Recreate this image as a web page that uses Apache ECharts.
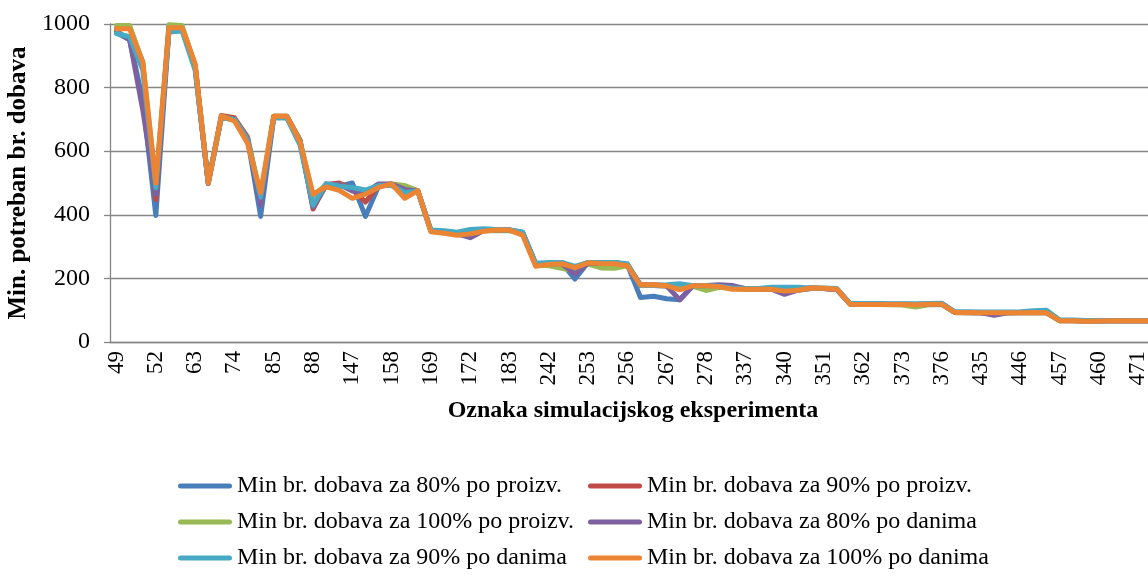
<!DOCTYPE html>
<html>
<head>
<meta charset="utf-8">
<script src="https://cdn.jsdelivr.net/npm/echarts@6/dist/echarts.min.js"></script>
<style>
  html, body { margin: 0; padding: 0; background: #ffffff; overflow: hidden; }
  /* plot area runs past the right edge of the page, so the last points are cut off */
  #chart { width: 1171px; height: 577px; }
</style>
</head>
<body>
<div id="chart"></div>
<script>
// Experiment IDs shown on the axis; every labelled experiment is followed by two unlabelled ones
const labeledIds = ['49','52','63','74','85','88','147','158','169','172','183','242','253','256',
  '267','278','337','340','351','362','373','376','435','446','457','460','471'];

const yTicks = { min: 0, max: 1000, step: 200 };

// Minimum required number of deliveries per experiment
const proizv80 = [972,950,760,398,980,985,862,500,705,700,
  640,395,705,705,635,425,495,490,500,395,
  490,495,480,475,350,348,343,335,352,353,
  352,345,245,248,248,198,250,250,250,243,
  140,144,136,133,177,178,176,170,168,168,
  167,163,165,170,168,165,120,120,120,119,
  119,118,119,120,93,93,92,88,92,93,
  95,95,68,68,67,67,67,67,67,67,
  67];
const proizv90 = [985,990,880,448,995,990,870,500,712,705,
  645,450,710,710,635,418,495,500,480,440,
  492,497,478,475,350,347,340,338,352,353,
  352,343,245,248,248,230,250,250,250,243,
  180,180,178,175,178,178,178,172,168,168,
  167,162,165,170,168,165,120,120,120,119,
  119,118,119,120,93,93,92,90,92,93,
  94,93,68,68,67,67,67,67,67,67,
  67];
const proizv100 = [995,995,878,495,998,995,870,500,710,700,
  640,460,710,710,635,460,495,495,478,470,
  492,497,492,476,348,345,342,340,350,350,
  350,340,242,240,232,222,245,233,232,240,
  178,178,176,170,175,162,172,168,165,165,
  167,163,163,168,168,165,118,118,118,117,
  116,110,117,118,92,92,92,91,92,92,
  93,92,67,67,66,66,67,67,67,67,
  67];
const danima80 = [978,950,730,465,985,985,865,498,708,700,
  638,430,708,708,632,425,492,495,475,470,
  497,497,480,475,350,346,340,328,350,352,
  352,342,243,246,246,213,248,248,248,242,
  178,178,176,133,177,178,180,178,168,167,
  166,150,163,168,168,165,119,118,119,118,
  118,118,118,119,93,92,92,84,92,92,
  93,92,67,67,66,66,67,67,67,67,
  67];
const danima90 = [970,960,855,485,975,978,855,500,705,700,
  635,455,705,705,620,430,498,490,486,478,
  492,492,470,475,352,350,345,354,356,354,
  352,345,248,250,250,238,250,250,250,246,
  178,178,180,183,177,177,175,170,168,168,
  172,172,172,170,170,168,121,121,121,120,
  120,120,121,122,95,95,94,94,94,95,
  98,100,69,69,68,68,68,68,68,68,
  68];
const danima100 = [985,985,880,500,988,988,875,500,710,695,
  625,470,710,710,630,465,488,477,452,465,
  486,497,452,476,347,342,336,340,348,352,
  352,336,238,244,246,234,249,247,246,240,
  179,179,177,164,177,177,174,166,166,166,
  166,160,163,170,169,166,119,118,118,118,
  118,117,119,119,93,93,92,92,92,92,
  93,92,67,67,65,66,67,67,67,67,
  67];

const seriesNames = [
  'Min br. dobava za 80% po proizv.',
  'Min br. dobava za 90% po proizv.',
  'Min br. dobava za 100% po proizv.',
  'Min br. dobava za 80% po danima',
  'Min br. dobava za 90% po danima',
  'Min br. dobava za 100% po danima'
];
const seriesData = [proizv80, proizv90, proizv100, danima80, danima90, danima100];
const colors = ['#4A7EBB', '#BE4B48', '#98B954', '#7D60A0', '#46AAC5', '#EB8533'];

// Category axis: labelled ID followed by two unlabelled slots
const categories = [];
labeledIds.forEach(id => { categories.push(id, '', ''); });

const FONT = '"Liberation Serif", "Times New Roman", serif';
const AXIS_GRAY = '#868686';

// Legend laid out in two fixed columns, three rows
const legendPos = [
  { left: 178, top: 473 }, { left: 588, top: 473 },
  { left: 178, top: 509 }, { left: 588, top: 509 },
  { left: 178, top: 545 }, { left: 588, top: 545 }
];
const capsule = 'path://M2.5,0 L51.5,0 A2.5,2.5 0 0 1 51.5,5 L2.5,5 A2.5,2.5 0 0 1 2.5,0 Z';

const chart = echarts.init(document.getElementById('chart'), null, { renderer: 'canvas' });
chart.setOption({
  animation: false,
  backgroundColor: '#ffffff',
  color: colors,
  grid: { left: 110, right: 0, top: 24, bottom: 235, containLabel: false, outerBoundsMode: 'none' },
  legend: legendPos.map((p, i) => ({
    left: p.left, top: p.top, padding: 0,
    data: [seriesNames[i]],
    icon: capsule, itemWidth: 54, itemHeight: 5,
    textStyle: { fontFamily: FONT, fontSize: 24, color: '#000', lineHeight: 26 }
  })),
  xAxis: {
    type: 'category',
    data: categories,
    boundaryGap: true,
    axisLine: { lineStyle: { color: AXIS_GRAY, width: 1.3 } },
    axisTick: { interval: 0, length: 5, lineStyle: { color: AXIS_GRAY, width: 1.3 } },
    axisLabel: {
      interval: 2, rotate: 90, margin: 9, hideOverlap: false,
      fontFamily: FONT, fontSize: 23, color: '#000'
    },
    splitLine: { show: false }
  },
  yAxis: {
    type: 'value',
    min: yTicks.min, max: yTicks.max, interval: yTicks.step,
    name: 'Min. potreban br. dobava',
    nameLocation: 'middle', nameGap: 77,
    nameTextStyle: { fontFamily: FONT, fontSize: 25, fontWeight: 'bold', color: '#000' },
    axisLine: { show: true, lineStyle: { color: AXIS_GRAY, width: 1.3 } },
    axisTick: { show: true, length: 6, lineStyle: { color: AXIS_GRAY, width: 1.3 } },
    axisLabel: {
      margin: 20, fontFamily: FONT, fontSize: 24, color: '#000',
      formatter: v => String(v)
    },
    splitLine: { lineStyle: { color: AXIS_GRAY, width: 1.3 } }
  },
  graphic: [{
    type: 'text',
    style: {
      x: 633, y: 411, text: 'Oznaka simulacijskog eksperimenta',
      font: 'bold 24px ' + FONT, fill: '#000',
      textAlign: 'center', textVerticalAlign: 'middle'
    }
  }],
  series: seriesNames.map((name, i) => ({
    name: name,
    type: 'line',
    data: seriesData[i],
    showSymbol: false,
    symbol: 'none',
    lineStyle: { width: 5, color: colors[i], cap: 'round', join: 'round' },
    itemStyle: { color: colors[i] }
  }))
});
</script>
</body>
</html>
